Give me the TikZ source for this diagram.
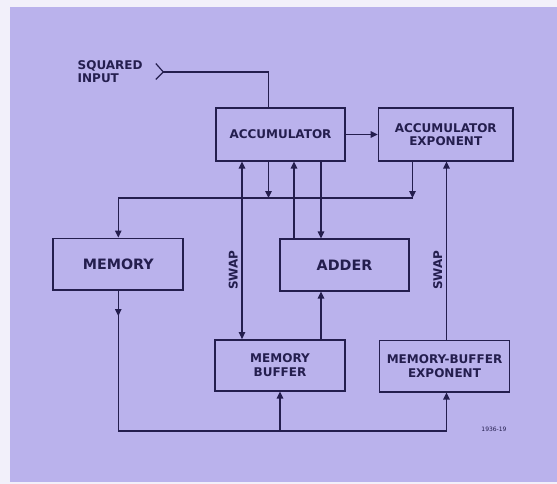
\documentclass[tikz,border=0pt]{standalone}
\usepackage{fontspec}
\setmainfont{DejaVu Sans}
\usetikzlibrary{arrows.meta,calc}
\definecolor{bgpurple}{RGB}{186,178,236}
\definecolor{ink}{RGB}{36,30,78}
\definecolor{paper}{RGB}{242,240,250}
\tikzset{
 box/.style={draw=ink, line width=1.7pt, inner sep=0pt, align=center, font=\bfseries\fontsize{12}{13.4}\selectfont, text=ink},
 bigbox/.style={box, font=\bfseries\fontsize{14.3}{16}\selectfont},
 wire/.style={draw=ink, line width=1.2pt},
 arr/.style={wire, -{Triangle[length=7pt,width=6.5pt]}},
 biarr/.style={wire, {Triangle[length=7pt,width=6.5pt]}-{Triangle[length=7pt,width=6.5pt]}},
 lbl/.style={text=ink, font=\bfseries\fontsize{12}{13.4}\selectfont, inner sep=0pt},
}
\begin{document}
\begin{tikzpicture}[x=1pt,y=-1pt]
\useasboundingbox (0,0) rectangle (557,484);
\fill[paper] (0,0) rectangle (557,484);
\fill[bgpurple] (10,7) rectangle (557,482);

\node[box, minimum width=129pt, minimum height=52.4pt] (acc) at (280.5,134.5) {ACCUMULATOR};
\node[box, minimum width=134.5pt, minimum height=52.4pt] (accexp) at (445.75,134.5) {ACCUMULATOR\\EXPONENT};
\node[bigbox, minimum width=130pt, minimum height=51.7pt] (mem) at (118.3,264.2) {MEMORY};
\node[bigbox, minimum width=129pt, minimum height=51.4pt] (adder) at (344.5,265) {ADDER};
\node[box, minimum width=130pt, minimum height=50.7pt] (mb) at (280,365.3) {MEMORY\\BUFFER};
\node[box, minimum width=130pt, minimum height=51.2pt] (mbe) at (444.5,366.1) {MEMORY-BUFFER\\EXPONENT};

\coordinate (inp) at (163.3,72);
\coordinate (xa) at (242,0);
\coordinate (xb) at (268.5,0);
\coordinate (xc) at (294,0);
\coordinate (xd) at (321,0);
\coordinate (xf) at (446.5,0);
\coordinate (busR) at (412.5,198);
\coordinate (botY) at (0,431);
\coordinate (memArr) at (118.3,316);

% squared input
\draw[wire, line join=miter] ($(inp)+(-7.5,-8.5)$) -- (inp) -- ($(inp)+(-7.5,7.5)$);
\draw[wire] (inp) -- (inp -| xb) -- (acc.north -| xb);
\node[lbl, align=left, anchor=west] (sq) at (77.5,71.5) {SQUARED\\INPUT};

% accumulator connections
\draw[arr] (acc) -- (accexp);
\draw[biarr] (acc.south -| xa) -- (mb.north -| xa);
\draw[arr] (acc.south -| xb) -- (busR -| xb);
\draw[arr] (adder.north -| xc) -- (acc.south -| xc);
\draw[arr] (acc.south -| xd) -- (adder.north -| xd);
\draw[arr] (accexp.south -| busR) -- (busR);
\draw[arr] (busR) -- (busR -| mem.north) -- (mem.north);

% memory output bus
\draw[arr] (mem.south) -- (memArr);
\draw[arr] (mem.south) -- (mem.south |- botY) -- (botY -| xf) -- (mbe.south -| xf);
\draw[arr] (botY -| mb.south) -- (mb.south);
\draw[arr] (mb.north -| xd) -- (adder.south -| xd);
\draw[arr] (mbe.north -| xf) -- (accexp.south -| xf);

\node[lbl, rotate=90] (swapL) at (233.3,270) {SWAP};
\node[lbl, rotate=90] (swapR) at (437.7,270) {SWAP};
\node[text=ink, font=\fontsize{6}{7}\selectfont, inner sep=0pt] (fig) at (494,429) {1936-19};
\end{tikzpicture}
\end{document}
